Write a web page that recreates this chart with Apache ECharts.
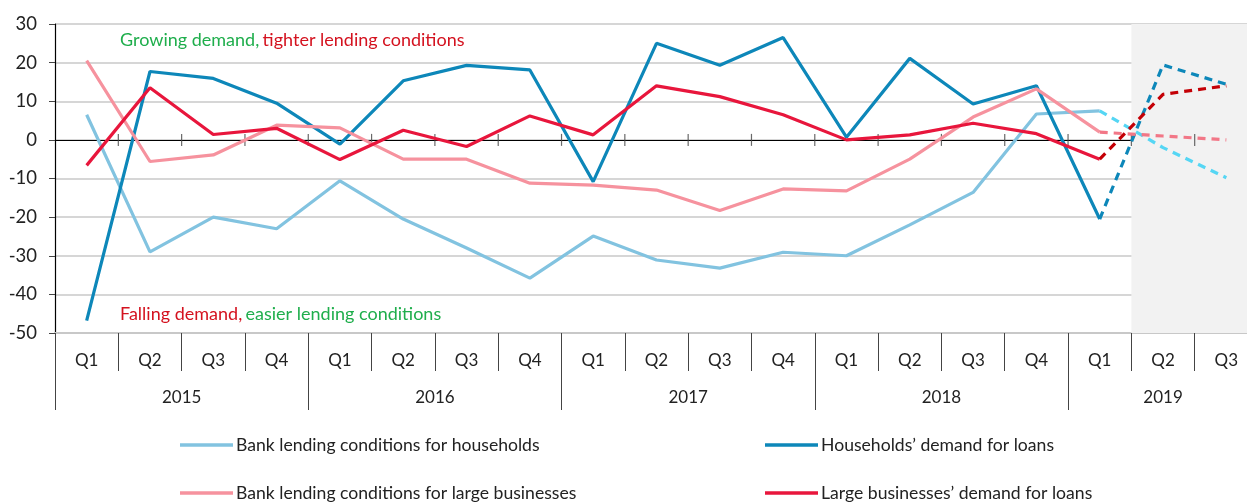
<!DOCTYPE html>
<html>
<head>
<meta charset="utf-8">
<title>Bank lending survey</title>
<script src="https://cdn.jsdelivr.net/npm/echarts@6/dist/echarts.min.js"></script>
<style>
  html, body { margin: 0; padding: 0; background: #fff; }
  #chart { width: 1247px; height: 503px; }
</style>
</head>
<body>
<div id="chart"></div>
<script>
// quarters Q1 2015 .. Q3 2019
var quarters = ['Q1','Q2','Q3','Q4','Q1','Q2','Q3','Q4','Q1','Q2','Q3','Q4','Q1','Q2','Q3','Q4','Q1','Q2','Q3'];
var years = ['2015', '2016', '2017', '2018', '2019'];
var yearLabelPos = [2, 6, 10, 14, 17.5];
var yearBounds = [0, 4, 8, 12, 16];
// boundaries between quarters, marked on the zero line
var quarterBounds = [1, 2, 3, 4, 5, 6, 7, 8, 9, 10, 11, 12, 13, 14, 15, 16, 17, 18];

// actual values Q1 2015 .. Q1 2019
var hhConditions = [6.5, -29, -20, -23, -10.6, -20.5, -28, -35.8, -24.9, -31.1, -33.2, -29.1, -30, -22, -13.6, 6.7, 7.5];
var hhDemand = [-46.8, 17.7, 15.9, 9.5, -1.1, 15.3, 19.3, 18.1, -10.8, 25, 19.3, 26.5, 0.7, 21.1, 9.3, 14, -20.5];
var corpConditions = [20.5, -5.6, -3.9, 3.8, 3.1, -5, -5, -11.2, -11.7, -13, -18.3, -12.7, -13.2, -5, 5.9, 13.2, 2];
var corpDemand = [-6.6, 13.5, 1.4, 3, -5.1, 2.5, -1.7, 6.2, 1.3, 14, 11.2, 6.5, 0, 1.3, 4.3, 1.6, -5];

// expectations Q1 2019 .. Q3 2019
var hhConditionsExp = [7.5, -2, -9.8];
var hhDemandExp = [-20.5, 19.4, 14.4];
var corpConditionsExp = [2, 1, 0];
var corpDemandExp = [-5, 11.8, 14];

function expData(arr) {
  var out = [];
  for (var i = 0; i < quarters.length - arr.length; i++) out.push(null);
  return out.concat(arr);
}

var font = 'Lato';
var myChart = echarts.init(document.getElementById('chart'));

function solid(name, data, color) {
  return {
    name: name, type: 'line', data: data, symbol: 'none', xAxisIndex: 0, yAxisIndex: 0,
    lineStyle: { color: color, width: 3.2 }, itemStyle: { color: color }, z: 3
  };
}
function dashed(name, data, color) {
  return {
    name: name, type: 'line', data: expData(data), symbol: 'none', xAxisIndex: 0, yAxisIndex: 0,
    lineStyle: { color: color, width: 3.2, type: [8, 6] }, z: 3
  };
}
function legendItem(name, left, top) {
  return {
    data: [name], left: left, top: top, padding: 0,
    itemWidth: 53, itemHeight: 10, icon: 'path://M0,4 L53,4 L53,7.5 L0,7.5 Z',
    textStyle: { color: '#222', fontSize: 17.6, fontFamily: font, padding: [0, 0, 0, -2] }
  };
}

myChart.setOption({
  animation: false,
  grid: { left: 55, right: -11, top: 24, bottom: 170, outerBoundsMode: 'none' },
  xAxis: [
    {
      // quarter labels at the bottom
      type: 'category', data: quarters, position: 'bottom',
      axisLine: { onZero: false, lineStyle: { color: '#c8c8c8', width: 2 } },
      axisTick: { show: true, length: 38, lineStyle: { color: '#444' } },
      axisLabel: { color: '#222', fontSize: 17, fontFamily: font, margin: 19 }
    },
    {
      // zero line
      type: 'category', data: quarters, position: 'bottom',
      axisLine: { onZero: true, lineStyle: { color: '#000', width: 1.2 } },
      axisTick: { show: false },
      axisLabel: { show: false }
    },
    {
      // years row
      type: 'value', min: 0, max: 19, position: 'bottom', offset: 38,
      axisLine: { show: false },
      splitLine: { show: false },
      axisTick: { show: true, length: 39, customValues: yearBounds, lineStyle: { color: '#444' } },
      axisLabel: {
        customValues: yearLabelPos, color: '#222', fontSize: 17, fontFamily: font, margin: 18,
        formatter: function (v) { return years[yearLabelPos.indexOf(v)]; }
      }
    }
  ],
  yAxis: {
    type: 'value', min: -50, max: 30, interval: 10,
    axisLine: { show: true, lineStyle: { color: '#000', width: 1.2 } },
    axisTick: { show: true, length: 6, lineStyle: { color: '#444' } },
    axisLabel: { color: '#222', fontSize: 18.5, fontFamily: font, margin: 18 },
    splitLine: { lineStyle: { color: '#c8c8c8', width: 1.5 } }
  },
  legend: [
    legendItem('Bank lending conditions for households', 180, 436),
    legendItem('Bank lending conditions for large businesses', 180, 484),
    legendItem("Households\u2019 demand for loans", 765, 436),
    legendItem("Large businesses\u2019 demand for loans", 765, 484)
  ],
  graphic: [
    {
      type: 'text', left: 120, top: 31,
      style: {
        text: '{g|Growing demand,} {r|tighter lending conditions}',
        rich: {
          g: { fill: '#1fae4c', fontSize: 18, fontFamily: font },
          r: { fill: '#d4121f', fontSize: 18, fontFamily: font }
        }
      }
    },
    {
      type: 'text', left: 120, top: 305,
      style: {
        text: '{r|Falling demand,} {g|easier lending conditions}',
        rich: {
          g: { fill: '#1fae4c', fontSize: 18, fontFamily: font },
          r: { fill: '#d4121f', fontSize: 18, fontFamily: font }
        }
      }
    }
  ],
  series: [
    {
      // shaded expectations period
      name: 'forecast', type: 'line', xAxisIndex: 2, yAxisIndex: 0, data: [],
      markArea: {
        silent: true,
        itemStyle: { color: '#f2f2f2' },
        data: [[{ xAxis: 17, yAxis: -50 }, { xAxis: 19, yAxis: 30 }]]
      },
      z: 1
    },
    {
      // small ticks crossing the zero line
      name: 'zero ticks', type: 'scatter', xAxisIndex: 2, yAxisIndex: 0, silent: true,
      data: quarterBounds.map(function (b) { return [b, 0]; }),
      symbol: 'rect', symbolSize: [1.2, 12], itemStyle: { color: '#444' }, z: 2
    },
    solid('Bank lending conditions for households', hhConditions, '#82c3e0'),
    solid("Households\u2019 demand for loans", hhDemand, '#0d87b9'),
    solid('Bank lending conditions for large businesses', corpConditions, '#f6929e'),
    solid("Large businesses\u2019 demand for loans", corpDemand, '#e8163c'),
    dashed('hh conditions exp', hhConditionsExp, '#55d6f4'),
    dashed('hh demand exp', hhDemandExp, '#0d87b9'),
    dashed('corp conditions exp', corpConditionsExp, '#f27787'),
    dashed('corp demand exp', corpDemandExp, '#c40006')
  ]
});
</script>
</body>
</html>
